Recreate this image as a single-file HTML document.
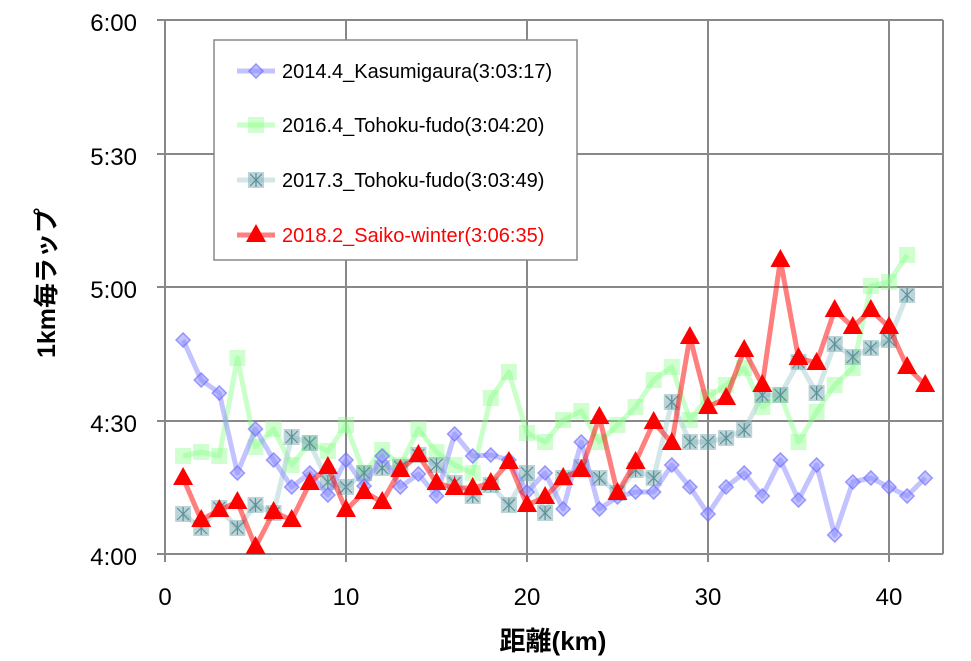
<!DOCTYPE html>
<html><head><meta charset="utf-8"><style>body{margin:0;background:#fff}svg{display:block}</style></head><body>
<svg width="971" height="661" xmlns="http://www.w3.org/2000/svg" font-family="Liberation Sans, Noto Sans CJK JP, sans-serif">
<defs>
<marker id="mdia" markerUnits="userSpaceOnUse" markerWidth="20" markerHeight="20" refX="10" refY="10" overflow="visible"><rect x="5" y="5" width="10" height="10" transform="rotate(45 10 10)" fill="#8888ff" fill-opacity="0.5" stroke="#6666ff" stroke-opacity="0.6" stroke-width="1.5"/></marker>
<marker id="msq" markerUnits="userSpaceOnUse" markerWidth="20" markerHeight="20" refX="10" refY="10" overflow="visible"><rect x="2" y="2" width="16" height="16" fill="#88ff88" fill-opacity="0.4"/></marker>
<marker id="mts" markerUnits="userSpaceOnUse" markerWidth="20" markerHeight="20" refX="10" refY="10" overflow="visible"><rect x="2" y="2" width="16" height="16" fill="#7aaab0" fill-opacity="0.5"/><path d="M4 4L16 16M16 4L4 16M10 3V17" stroke="#5a9098" stroke-width="1.2"/></marker>
<marker id="mtri" markerUnits="userSpaceOnUse" markerWidth="20" markerHeight="20" refX="10" refY="10" overflow="visible"><path d="M10 -1L20 17H0Z" fill="#ff0000"/></marker>
</defs>
<rect width="971" height="661" fill="#fff"/>
<g stroke="#888" stroke-width="2" fill="none">
<line x1="157" y1="20" x2="943" y2="20"/><line x1="157" y1="154" x2="943" y2="154"/><line x1="157" y1="287" x2="943" y2="287"/><line x1="157" y1="421" x2="943" y2="421"/><line x1="157" y1="554" x2="943" y2="554"/>
<line x1="165" y1="20" x2="165" y2="562"/><line x1="346" y1="20" x2="346" y2="562"/><line x1="527" y1="20" x2="527" y2="562"/><line x1="708" y1="20" x2="708" y2="562"/><line x1="889" y1="20" x2="889" y2="562"/><line x1="943" y1="20" x2="943" y2="554"/>
</g>
<g font-size="24" fill="#000" text-anchor="end">
<text x="137" y="31">6:00</text><text x="137" y="165">5:30</text><text x="137" y="298">5:00</text><text x="137" y="432">4:30</text><text x="137" y="565">4:00</text>
</g>
<g font-size="24" fill="#000" text-anchor="middle">
<text x="165" y="605">0</text><text x="346" y="605">10</text><text x="527" y="605">20</text><text x="708" y="605">30</text><text x="889" y="605">40</text>
<text x="553" y="650" font-weight="bold" font-size="26">距離(km)</text>
</g>
<text transform="translate(55,283) rotate(-90)" text-anchor="middle" font-size="25" font-weight="bold">1km毎ラップ</text>

<polyline fill="none" stroke="#88ff88" stroke-opacity="0.45" stroke-width="5" stroke-linejoin="round" marker-start="url(#msq)" marker-mid="url(#msq)" marker-end="url(#msq)" points="183.1,456 201.2,452 219.3,456 237.4,358 255.5,447 273.6,429 291.7,465 309.8,443 327.9,451 346,425 364.1,473 382.2,450 400.3,465 418.4,429 436.5,452 454.6,465 472.7,473 490.8,398 508.9,372 527,433 545.1,442 563.2,420 581.3,411 599.4,442 617.5,425 635.6,407 653.7,380 671.8,367 689.9,420 708,397 726.1,385 744.2,368 762.3,407 780.4,395 798.5,442 816.6,412 834.7,385 852.8,368 870.9,286 889,282 907.1,255"/>
<polyline fill="none" stroke="#a8cdd2" stroke-opacity="0.5" stroke-width="5" stroke-linejoin="round" marker-start="url(#mts)" marker-mid="url(#mts)" marker-end="url(#mts)" points="183.1,514 201.2,528 219.3,508 237.4,528 255.5,505 273.6,513 291.7,437 309.8,443 327.9,482 346,487 364.1,473 382.2,468 400.3,467 418.4,455 436.5,465 454.6,483 472.7,496 490.8,485 508.9,505 527,473 545.1,513 563.2,478 581.3,467 599.4,478 617.5,493 635.6,470 653.7,478 671.8,402 689.9,442 708,442 726.1,438 744.2,430 762.3,395 780.4,395 798.5,362 816.6,393 834.7,344 852.8,357 870.9,348 889,340 907.1,295"/>
<polyline fill="none" stroke="#8888ff" stroke-opacity="0.5" stroke-width="5" stroke-linejoin="round" marker-start="url(#mdia)" marker-mid="url(#mdia)" marker-end="url(#mdia)" points="183.1,340 201.2,380 219.3,393 237.4,473 255.5,429 273.6,460 291.7,487 309.8,473 327.9,495 346,460 364.1,486 382.2,456 400.3,487 418.4,474 436.5,496 454.6,434 472.7,456 490.8,455 508.9,460 527,492 545.1,473 563.2,509 581.3,442 599.4,509 617.5,497 635.6,492 653.7,492 671.8,465 689.9,487 708,514 726.1,487 744.2,473 762.3,496 780.4,460 798.5,500 816.6,465 834.7,535 852.8,482 870.9,478 889,487 907.1,496 925.2,478"/>
<polyline fill="none" stroke="#ff0000" stroke-opacity="0.5" stroke-width="5" stroke-linejoin="round" marker-start="url(#mtri)" marker-mid="url(#mtri)" marker-end="url(#mtri)" points="183.1,478 201.2,520 219.3,510 237.4,502 255.5,547 273.6,512 291.7,520 309.8,483 327.9,467 346,510 364.1,492 382.2,502 400.3,470 418.4,455 436.5,483 454.6,488 472.7,488 490.8,483 508.9,462 527,505 545.1,497 563.2,478 581.3,470 599.4,417 617.5,493 635.6,462 653.7,422 671.8,443 689.9,337 708,407 726.1,398 744.2,350 762.3,385 780.4,260 798.5,358 816.6,363 834.7,310 852.8,327 870.9,310 889,327 907.1,367 925.2,385"/>

<rect x="214" y="40" width="363" height="220" fill="#fff" stroke="#888" stroke-width="1.5"/>
<g font-size="20">
<polyline points="237,71 256,71 275,71" fill="none" stroke="#8888ff" stroke-opacity="0.5" stroke-width="5" marker-mid="url(#mdia)"/><text x="282" y="78" fill="#000">2014.4_Kasumigaura(3:03:17)</text>
<polyline points="237,125 256,125 275,125" fill="none" stroke="#88ff88" stroke-opacity="0.45" stroke-width="5" marker-mid="url(#msq)"/><text x="282" y="132" fill="#000">2016.4_Tohoku-fudo(3:04:20)</text>
<polyline points="237,180 256,180 275,180" fill="none" stroke="#a8cdd2" stroke-opacity="0.5" stroke-width="5" marker-mid="url(#mts)"/><text x="282" y="187" fill="#000">2017.3_Tohoku-fudo(3:03:49)</text>
<polyline points="237,235 256,235 275,235" fill="none" stroke="#ff0000" stroke-opacity="0.5" stroke-width="5" marker-mid="url(#mtri)"/><text x="282" y="242" fill="#ff0000">2018.2_Saiko-winter(3:06:35)</text>
</g>
</svg>
</body></html>
